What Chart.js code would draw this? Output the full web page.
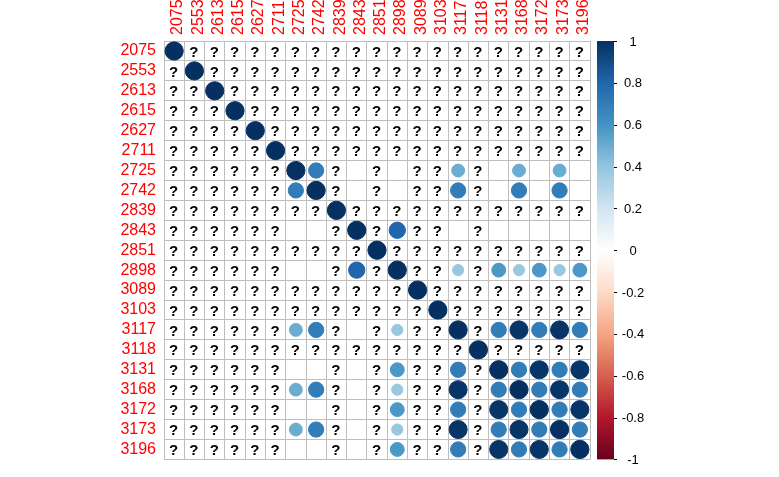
<!DOCTYPE html>
<html>
<head>
<meta charset="utf-8">
<script src="https://cdn.jsdelivr.net/npm/chart.js@4/dist/chart.umd.min.js"></script>
<style>
  html, body { margin: 0; padding: 0; background: #ffffff; }
  #wrap { width: 779px; height: 477px; }
</style>
</head>
<body>
<div id="wrap"><canvas id="c" width="779" height="477"></canvas></div>
<script>
// ---- data ----
const categories = ['2075','2553','2613','2615','2627','2711','2725','2742','2839','2843','2851',
                    '2898','3089','3103','3117','3118','3131','3168','3172','3173','3196'];
const N = null; // shown as "?"
const corrRows = [
  /*2075*/ [1,N,N,N,N,N,N,N,N,N,N,N,N,N,N,N,N,N,N,N,N],
  /*2553*/ [N,1,N,N,N,N,N,N,N,N,N,N,N,N,N,N,N,N,N,N,N],
  /*2613*/ [N,N,1,N,N,N,N,N,N,N,N,N,N,N,N,N,N,N,N,N,N],
  /*2615*/ [N,N,N,1,N,N,N,N,N,N,N,N,N,N,N,N,N,N,N,N,N],
  /*2627*/ [N,N,N,N,1,N,N,N,N,N,N,N,N,N,N,N,N,N,N,N,N],
  /*2711*/ [N,N,N,N,N,1,N,N,N,N,N,N,N,N,N,N,N,N,N,N,N],
  /*2725*/ [N,N,N,N,N,N,1,0.70,N,0.02,N,-0.03,N,N,0.50,N,0.01,0.50,0.01,0.50,0.01],
  /*2742*/ [N,N,N,N,N,N,0.70,1,N,0.01,N,0.02,N,N,0.70,N,0.01,0.70,0.01,0.70,0.01],
  /*2839*/ [N,N,N,N,N,N,N,N,1,N,N,N,N,N,N,N,N,N,N,N,N],
  /*2843*/ [N,N,N,N,N,N,0.02,0.01,N,1,N,0.80,N,N,0.01,N,0.02,-0.01,0.02,-0.01,0.02],
  /*2851*/ [N,N,N,N,N,N,N,N,N,N,1,N,N,N,N,N,N,N,N,N,N],
  /*2898*/ [N,N,N,N,N,N,-0.03,0.02,N,0.80,N,1,N,N,0.38,N,0.58,0.38,0.58,0.38,0.58],
  /*3089*/ [N,N,N,N,N,N,N,N,N,N,N,N,1,N,N,N,N,N,N,N,N],
  /*3103*/ [N,N,N,N,N,N,N,N,N,N,N,N,N,1,N,N,N,N,N,N,N],
  /*3117*/ [N,N,N,N,N,N,0.50,0.70,N,0.01,N,0.38,N,N,1,N,0.70,0.98,0.70,0.98,0.70],
  /*3118*/ [N,N,N,N,N,N,N,N,N,N,N,N,N,N,N,1,N,N,N,N,N],
  /*3131*/ [N,N,N,N,N,N,0.01,0.01,N,0.02,N,0.58,N,N,0.70,N,1,0.70,0.98,0.70,0.98],
  /*3168*/ [N,N,N,N,N,N,0.50,0.70,N,-0.01,N,0.38,N,N,0.98,N,0.70,1,0.70,0.98,0.70],
  /*3172*/ [N,N,N,N,N,N,0.01,0.01,N,0.02,N,0.58,N,N,0.70,N,0.98,0.70,1,0.70,0.98],
  /*3173*/ [N,N,N,N,N,N,0.50,0.70,N,-0.01,N,0.38,N,N,0.98,N,0.70,0.98,0.70,1,0.70],
  /*3196*/ [N,N,N,N,N,N,0.01,0.01,N,0.02,N,0.58,N,N,0.70,N,0.98,0.70,0.98,0.70,1]
];
const legendTicks = [-1,-0.8,-0.6,-0.4,-0.2,0,0.2,0.4,0.6,0.8,1];
const legendTickLabels = ['-1','-0.8','-0.6','-0.4','-0.2','0','0.2','0.4','0.6','0.8','1'];
const paletteStops = ['#67001F','#B2182B','#D6604D','#F4A582','#FDDBC7','#FFFFFF',
                      '#D1E5F0','#92C5DE','#4393C3','#2166AC','#053061'];

// ---- helpers ----
function hexToRgb(h){ return [parseInt(h.slice(1,3),16),parseInt(h.slice(3,5),16),parseInt(h.slice(5,7),16)]; }
function colorFor(v){
  const t = (Math.max(-1, Math.min(1, v)) + 1) / 2 * (paletteStops.length - 1);
  const i = Math.min(paletteStops.length - 2, Math.floor(t));
  const f = t - i;
  const a = hexToRgb(paletteStops[i]), b = hexToRgb(paletteStops[i+1]);
  const c = a.map((x,k)=>Math.round(x + (b[k]-x)*f));
  return 'rgb(' + c.join(',') + ')';
}

const points = [];
const pointValues = [];
corrRows.forEach((row, i) => row.forEach((v, j) => {
  if (v !== null) { points.push({ x: categories[j], y: categories[i] }); pointValues.push(v); }
}));

const FONT = "'Liberation Sans', Arial, sans-serif";

function valOf(c){ return (c && typeof c.dataIndex === 'number' && pointValues[c.dataIndex] !== undefined) ? pointValues[c.dataIndex] : 0; }
function radiusOf(c){
  const area = c.chart.chartArea;
  const cell = area ? (area.right - area.left) / categories.length : 20.3;
  return 0.45 * cell * Math.sqrt(Math.abs(valOf(c)));
}

const naPlugin = {
  id: 'naLabels',
  afterDatasetsDraw(chart) {
    const ctx = chart.ctx, xs = chart.scales.x, ys = chart.scales.y;
    ctx.save();
    ctx.fillStyle = '#000000';
    ctx.font = 'bold 15px ' + FONT;
    ctx.textAlign = 'center';
    ctx.textBaseline = 'middle';
    corrRows.forEach((row, i) => row.forEach((v, j) => {
      if (v === null) {
        ctx.fillText('?', xs.getPixelForValue(j) - 0.5, ys.getPixelForValue(i) + 1.5);
      }
    }));
    ctx.restore();
  }
};

const legendPlugin = {
  id: 'colorLegend',
  afterDraw(chart) {
    const ctx = chart.ctx, area = chart.chartArea;
    const x0 = area.right + 7, w = 17, top = area.top, bottom = area.bottom;
    ctx.save();
    const g = ctx.createLinearGradient(0, bottom, 0, top);
    paletteStops.forEach((c, k) => g.addColorStop(k / (paletteStops.length - 1), c));
    ctx.fillStyle = g;
    ctx.fillRect(x0, top, w, bottom - top);
    ctx.strokeStyle = '#000000';
    ctx.lineWidth = 1;
    ctx.fillStyle = '#000000';
    ctx.font = '13px ' + FONT;
    ctx.textAlign = 'center';
    ctx.textBaseline = 'middle';
    legendTicks.forEach((t, k) => {
      const y = bottom - (t + 1) / 2 * (bottom - top);
      ctx.beginPath();
      ctx.moveTo(x0 + w, Math.round(y) + 0.5);
      ctx.lineTo(x0 + w + 3, Math.round(y) + 0.5);
      ctx.stroke();
      ctx.fillText(legendTickLabels[k], x0 + w + 19, y + 1);
    });
    ctx.restore();
  }
};

new Chart(document.getElementById('c'), {
  type: 'scatter',
  data: {
    datasets: [{
      data: points,
      pointBackgroundColor: c => colorFor(valOf(c)),
      pointBorderColor: c => colorFor(valOf(c)),
      pointBorderWidth: 1,
      pointRadius: radiusOf,
      pointHoverRadius: radiusOf,
      showLine: false
    }]
  },
  options: {
    responsive: false,
    animation: false,
    events: [],
    layout: { padding: { left: 0, top: 0, right: 189, bottom: 10 } },
    plugins: { legend: { display: false }, tooltip: { enabled: false } },
    scales: {
      x: {
        type: 'category',
        labels: categories,
        position: 'top',
        offset: true,
        grid: { offset: true, color: '#BEBEBE', lineWidth: 1, drawTicks: false },
        border: { display: true, color: '#BEBEBE' },
        ticks: { color: '#FF0000', font: { family: FONT, size: 16 }, minRotation: 90, maxRotation: 90,
                 padding: 6, autoSkip: false, labelOffset: 23 },
        afterFit: s => { s.height = 41; }
      },
      y: {
        type: 'category',
        labels: categories,
        offset: true,
        grid: { offset: true, color: '#BEBEBE', lineWidth: 1, drawTicks: false },
        border: { display: true, color: '#BEBEBE' },
        ticks: { color: '#FF0000', font: { family: FONT, size: 16 }, padding: 8, autoSkip: false },
        afterFit: s => { s.width = 164; }
      }
    }
  },
  plugins: [naPlugin, legendPlugin]
});
</script>
</body>
</html>
